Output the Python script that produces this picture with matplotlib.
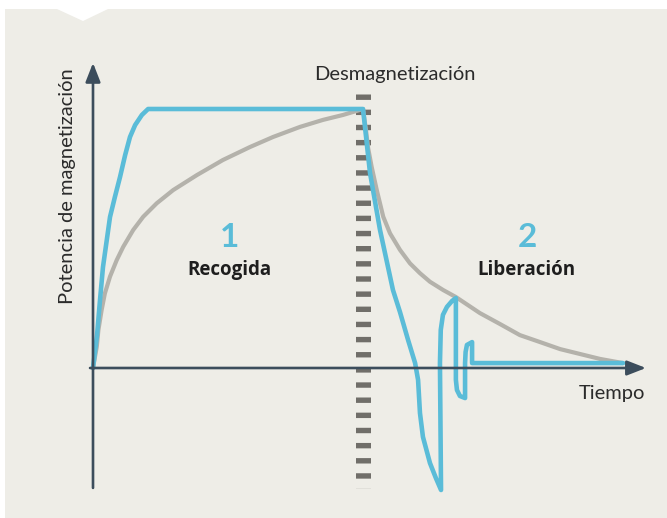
import matplotlib
matplotlib.use("Agg")
import matplotlib.pyplot as plt
from matplotlib.patches import Polygon

# ---- data (time in units of demagnetization instant, magnetization normalised to saturation)
blue_t = [0.0, 0.015, 0.026, 0.037, 0.063, 0.081, 0.100, 0.119, 0.137, 0.156, 0.181, 0.204,
          1.000,
          1.026, 1.063, 1.111, 1.137, 1.167, 1.193,
          1.204, 1.211, 1.222, 1.248, 1.270, 1.289,
          1.285, 1.288, 1.296, 1.311, 1.330, 1.344,
          1.344, 1.348, 1.359, 1.378,
          1.378, 1.380, 1.385, 1.404,
          1.404, 1.963]
blue_m = [0.0, 0.127, 0.263, 0.390, 0.583, 0.660, 0.737, 0.822, 0.892, 0.938, 0.977, 1.000,
          1.000,
          0.753, 0.533, 0.301, 0.216, 0.108, 0.019,
          -0.046, -0.174, -0.266, -0.367, -0.425, -0.471,
          0.019, 0.147, 0.205, 0.236, 0.259, 0.270,
          -0.046, -0.085, -0.108, -0.116,
          0.019, 0.062, 0.089, 0.100,
          0.019, 0.019]

gray_t = [0.0, 0.014, 0.020, 0.032, 0.044, 0.063, 0.088, 0.112, 0.149, 0.186, 0.236, 0.297,
          0.385, 0.481, 0.581, 0.667, 0.767, 0.852, 0.926, 1.000,
          1.011, 1.019, 1.032, 1.051, 1.075, 1.100, 1.137, 1.174, 1.211, 1.248, 1.297,
          1.344, 1.433, 1.507, 1.581, 1.656, 1.730, 1.804, 1.878, 1.963]
gray_m = [0.0, 0.082, 0.147, 0.224, 0.288, 0.353, 0.417, 0.468, 0.533, 0.584, 0.636, 0.687,
          0.745, 0.803, 0.853, 0.892, 0.931, 0.958, 0.977, 1.000,
          0.919, 0.849, 0.777, 0.687, 0.584, 0.520, 0.456, 0.404, 0.366, 0.333, 0.301,
          0.274, 0.212, 0.170, 0.127, 0.100, 0.073, 0.054, 0.035, 0.019]

demag_t = 1.0
title_demag = "Desmagnetización"
xlabel = "Tiempo"
ylabel = "Potencia de magnetización"
phase_nums = ["1", "2"]
phase_names = ["Recogida", "Liberación"]
phase_t = [0.507, 1.607]

BLUE = "#5abcd8"
GRAY = "#b4b2ab"
AXIS = "#3c4d5c"
DASH = "#706e69"
TEXT = "#2b2b2b"
PANEL = "#eeede7"

W, H = 667, 518
fig = plt.figure(figsize=(W / 100, H / 100), dpi=100, facecolor="white")

ax = fig.add_axes([0, 0, 1, 1])
ax.patch.set_alpha(0)
ax.set_xlim(-93 / 270, (W - 93) / 270)
ax.set_ylim((368 - H) / 259, 368 / 259)
ax.axis("off")

# background panel with notch
pts = [(5, 9), (57, 9), (83, 21), (108, 9), (W, 9), (W, H), (5, H)]
panel = Polygon([(x / W, 1 - y / H) for x, y in pts], closed=True,
                transform=fig.transFigure, facecolor=PANEL, edgecolor="none", zorder=0)
ax.add_patch(panel)

font = "Lato"

# demagnetization dashed line
ax.plot([demag_t, demag_t], [1.058, -0.463], color=DASH, lw=10.8,
        linestyle=(0, (0.36, 0.65)), solid_capstyle="butt", dash_capstyle="butt", zorder=2)

ax.plot(gray_t, gray_m, color=GRAY, lw=3.0, solid_joinstyle="round",
        solid_capstyle="round", zorder=3)
ax.plot(blue_t, blue_m, color=BLUE, lw=3.3, solid_joinstyle="round",
        solid_capstyle="round", zorder=4)

# axes arrows
arrow = dict(arrowstyle="-|>,head_length=1.15,head_width=0.45", mutation_scale=10,
             lw=1.9, color=AXIS, shrinkA=0, shrinkB=0)
ax.annotate("", xy=(0, 1.178), xytext=(0, -0.463), arrowprops=arrow, zorder=5)
ax.annotate("", xy=(2.048, 0), xytext=(-0.011, 0), arrowprops=arrow, zorder=5)

ax.text(1.117, 1.112, title_demag, ha="center", va="baseline", fontsize=14.5,
        color=TEXT, family=font)
ax.text(1.80, -0.12, xlabel, ha="left", va="baseline", fontsize=14.5,
        color=TEXT, family=font)
ax.text(-0.093, 0.703, ylabel, ha="center", va="center", rotation=90,
        fontsize=14.5, color=TEXT, family=font)

for t, n, name in zip(phase_t, phase_nums, phase_names):
    ax.text(t, 0.467, n, ha="center", va="baseline", fontsize=24,
            fontweight="bold", color=BLUE, family=font)
    ax.text(t, 0.359, name, ha="center", va="baseline", fontsize=13.5,
            fontweight="bold", color="#1e1e1e", family="Open Sans")

fig.savefig("out.png", dpi=100, facecolor="white")
